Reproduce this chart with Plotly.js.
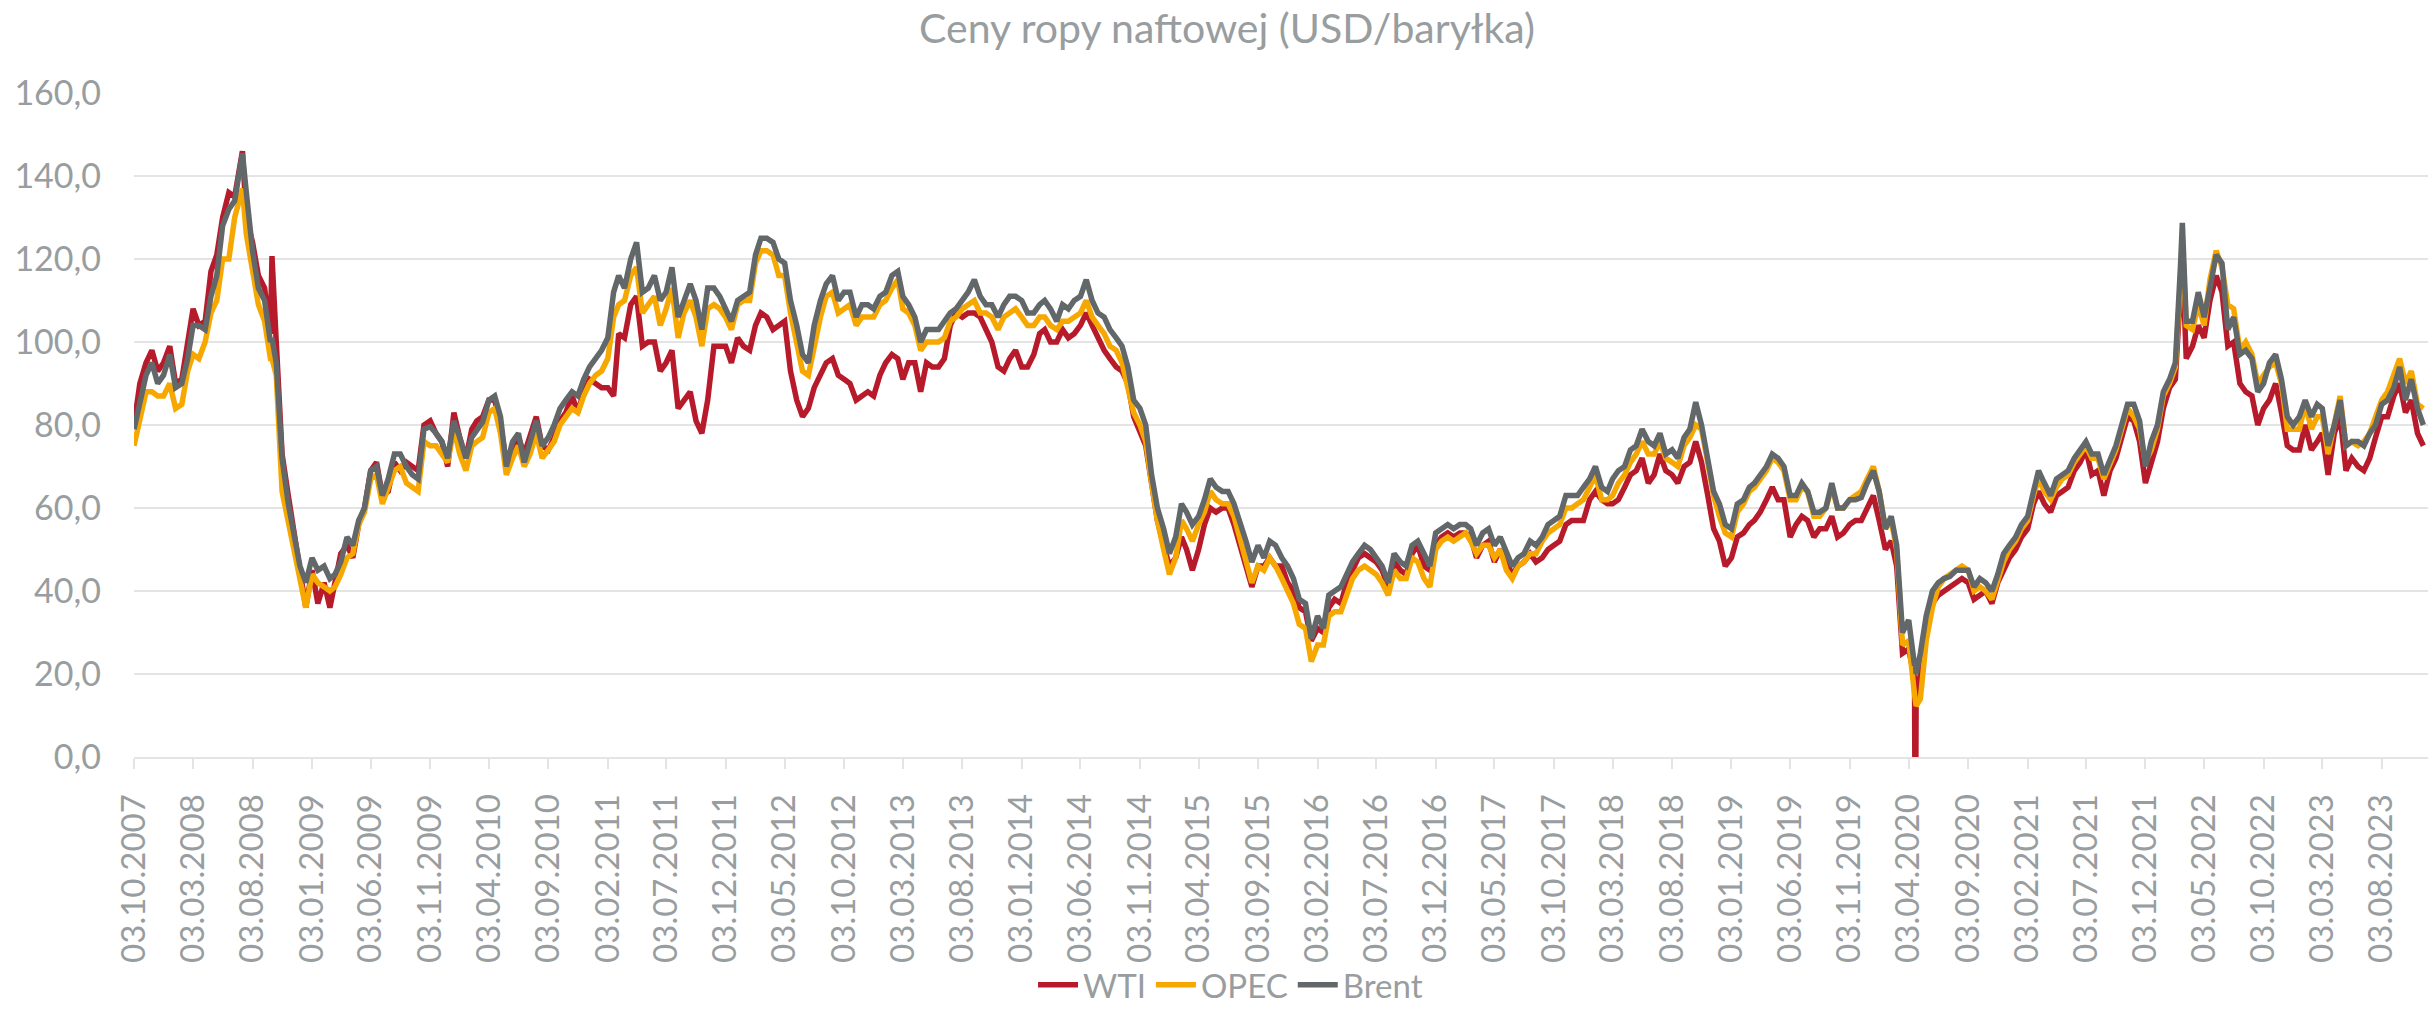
<!DOCTYPE html>
<html><head><meta charset="utf-8">
<script src="https://cdn.plot.ly/plotly-3.0.1.min.js"></script>
<style>html,body{margin:0;padding:0;background:#fff}#chart{width:2432px;height:1017px}</style>
</head><body><div id="chart"></div>
<script>
// Sampling grid: two readings per month (3rd and 18th), Oct 2007 - Nov 2023
const firstYear = 2007, firstMonthIndex = 9, monthCount = 194;
const sampleDays = ['03', '18'];

// WTI (USD/bbl), two values per month
const wti = [
 80,90, 95,98, 93,95,
 99,90, 91,100, 108,104, 105,117, 121,130, 136,135, 143,130, 124,116, 113,102, 100,73, 63,54, 47,36,
 45,37, 42,36, 42,49, 51,48, 56,60, 69,71, 63,64, 71,69, 71,70, 69,80, 81,78, 76,70,
 83,77, 72,79, 81,82, 86,86, 80,71, 74,77, 73,77, 82,75, 74,77, 81,83, 87,83, 88,91,
 90,89, 89,87, 102,101, 109,111, 99,100, 100,93, 95,98, 84,86, 88,81, 78,86, 99,99, 99,95,
 101,99, 98,104, 107,106, 103,104, 105,93, 86,82, 84,89, 92,95, 96,92, 91,90, 86,87, 88,87,
 92,95, 97,96, 91,95, 95,88, 95,94, 94,96, 104,107, 106,107, 107,106, 103,100, 94,93, 96,98,
 94,94, 97,102, 103,100, 100,103, 101,102, 104,107, 104,101, 98,96, 94,93, 90,82, 78,75, 66,57,
 51,46, 48,53, 50,45, 50,56, 60,59, 60,60, 56,51, 46,41, 46,46, 48,46, 46,42, 40,36,
 35,28, 31,30, 36,38, 37,42, 45,48, 49,48, 47,45, 41,47, 45,44, 49,51, 46,45, 51,53,
 54,53, 54,54, 53,48, 51,52, 47,50, 47,44, 46,47, 49,47, 48,50, 51,52, 56,57, 57,57,
 62,64, 62,61, 61,62, 65,68, 69,72, 66,68, 73,69, 68,66, 70,71, 76,71, 63,55, 52,46,
 48,53, 54,56, 57,59, 62,65, 62,62, 53,56, 58,57, 53,55, 55,58, 53,54, 56,57, 57,60,
 63,57, 50,52, 46,25, 26,19, 20,31, 37,39, 40,41, 42,43, 42,38, 39,40, 37,42, 45,48,
 50,53, 55,61, 64,61, 59,63, 64,65, 69,71, 74,68, 69,63, 69,72, 77,82, 81,76, 66,71,
 76,84, 89,91, 110,96, 99,104, 101,110, 116,112, 99,100, 90,88, 87,80, 84,86, 90,83, 75,74,
 74,80, 74,76, 78,68, 78,82, 69,72, 70,69, 72,77, 82,82, 87,90, 83,86, 78,75
];

// OPEC basket (USD/bbl)
const opec = [
 75,82, 88,88, 87,87,
 90,84, 85,93, 97,96, 100,107, 110,120, 120,130, 135,126, 118,109, 105,96, 92,64, 57,50, 43,36,
 44,42, 41,40, 41,44, 48,49, 56,59, 67,68, 61,65, 69,70, 66,65, 64,76, 75,75, 73,71,
 79,73, 69,75, 76,77, 83,84, 78,68, 72,75, 70,73, 78,72, 74,76, 80,82, 84,83, 87,90,
 92,93, 96,106, 109,110, 116,118, 107,109, 111,104, 108,113, 101,107, 110,106, 99,108, 109,108, 106,103,
 109,110, 110,119, 122,122, 121,116, 116,107, 100,93, 92,99, 106,111, 112,107, 108,109, 104,106, 106,106,
 109,110, 113,115, 108,107, 104,98, 100,100, 100,101, 105,106, 108,109, 110,107, 107,106, 103,106, 107,108,
 106,104, 104,106, 106,104, 103,105, 105,106, 107,110, 106,104, 102,99, 98,95, 89,83, 80,76, 66,57,
 50,44, 48,57, 55,52, 56,59, 64,62, 61,61, 58,53, 47,42, 46,45, 48,46, 43,40, 37,32,
 31,23, 27,27, 34,35, 35,39, 43,45, 46,45, 44,42, 39,45, 43,43, 48,47, 43,41, 50,52,
 53,52, 53,54, 52,49, 51,51, 48,50, 45,43, 46,47, 49,49, 52,54, 55,56, 60,60, 61,62,
 65,68, 62,62, 63,66, 68,71, 73,76, 73,73, 76,72, 71,70, 75,77, 80,79, 71,63, 58,54,
 53,59, 61,64, 65,67, 69,72, 71,69, 62,62, 65,64, 58,58, 60,65, 60,60, 62,63, 64,67,
 70,64, 55,57, 50,27, 28,15, 14,28, 36,41, 43,44, 45,46, 45,40, 41,40, 38,43, 47,50,
 52,55, 57,63, 67,64, 62,65, 67,68, 71,73, 75,72, 72,67, 71,74, 79,84, 82,79, 71,74,
 79,87, 90,94, 115,104, 103,109, 104,115, 122,118, 109,108, 98,100, 97,90, 92,94, 95,90, 79,79,
 79,85, 79,82, 82,73, 81,87, 75,76, 75,76, 78,82, 86,88, 92,96, 90,93, 85,84
];

// Brent (USD/bbl)
const brent = [
 79,86, 92,95, 90,92,
 97,89, 90,96, 104,104, 103,111, 116,128, 132,134, 144,136, 122,113, 110,100, 95,72, 61,54, 46,42,
 48,45, 46,43, 44,47, 53,51, 57,60, 69,70, 63,67, 73,73, 70,68, 67,79, 79.6,78, 76,72,
 81,77, 72,77, 79,80.7, 86,87, 82,70, 76,78, 71,76, 81,75, 77,80, 84,86, 88,87, 91,94,
 96,98, 101,112, 116,113, 120,124, 112,113, 116,110, 112,118, 106,110, 114,110, 103,113, 113,111, 108,105,
 110,111, 112,121, 125,125, 124,120, 119,110, 104,97, 95,104, 110,114, 116,110, 112,112, 106,109, 109,108,
 111,112, 116,117, 111,109, 106,100, 103,103, 103,105, 107,108, 110,112, 115,111, 109,109, 106,109, 111,111,
 110,107, 107,109, 110,108, 105,109, 108,110, 111,115, 110,107, 106,103, 101,99, 94,86, 84,80, 68,60,
 55,49, 53,61, 59,56, 58,62, 67,65, 64,64, 61,57, 52,47, 51,48, 52,51, 48,46, 43,38,
 37,28.5, 34,31, 39,40, 41,44, 47,49, 51,50, 48,46, 42,49, 47,46, 51,52, 49,46, 54,55,
 56,55, 56,56, 55,51, 54,55, 51,53, 49,46, 48,49, 52,51, 53,56, 57,58, 63,63, 63,65,
 67,70, 65,64, 67,69, 70,74, 75,79, 76,75, 78,73, 74,72, 77,79, 85.5,80, 72,64, 61,56,
 55,61, 62,65, 66,68, 70,73, 72,70, 63,63, 66,64, 59,59, 60,66, 60,60, 62,62, 62.5,66,
 69,64, 55,58, 51,30, 33,22, 25,34, 40,42, 43,43.5, 45,45, 45,41, 43,42, 40,44, 49,51,
 53,56, 58,64, 69,66, 63,67, 68,69, 72,74, 76,73, 73,68, 72,75, 80,85, 85,81, 70,76,
 80,88, 91,95, 118,105, 105,112, 106,113, 121,119, 103,106, 97,98, 96,88, 90,95, 97,91, 82,80,
 82,86, 82,85, 84,75, 80,86, 75,76, 76,75, 78,80, 85,86, 89,94, 86,91, 84,80
];

// Extra readings at visible daily spikes
const spikeDates = ['2008-07-08', '2008-09-22', '2020-04-20', '2020-04-22', '2022-03-08'];
const spikeWti   = [146, 120.7, -37.6, 14, 120];
const spikeOpec  = [137, 96, 14, 12.3, 124];
const spikeBrent = [145.5, 101, 23, 20, 128.7];

const tickLabels = ['03.10.2007','03.03.2008','03.08.2008','03.01.2009','03.06.2009','03.11.2009',
 '03.04.2010','03.09.2010','03.02.2011','03.07.2011','03.12.2011','03.05.2012','03.10.2012',
 '03.03.2013','03.08.2013','03.01.2014','03.06.2014','03.11.2014','03.04.2015','03.09.2015',
 '03.02.2016','03.07.2016','03.12.2016','03.05.2017','03.10.2017','03.03.2018','03.08.2018',
 '03.01.2019','03.06.2019','03.11.2019','03.04.2020','03.09.2020','03.02.2021','03.07.2021',
 '03.12.2021','03.05.2022','03.10.2022','03.03.2023','03.08.2023'];

const seriesNames = ['WTI', 'OPEC', 'Brent'];
const seriesColors = ['#B71B2B', '#F7A800', '#626769'];

// ---- build rows ----
const rows = [];
for (let i = 0; i < monthCount; i++) {
  const mi = firstMonthIndex + i;
  const y = firstYear + Math.floor(mi / 12);
  const m = String(mi % 12 + 1).padStart(2, '0');
  sampleDays.forEach((d, j) => {
    const k = i * 2 + j;
    rows.push({d: `${y}-${m}-${d}`, v: [wti[k], opec[k], brent[k]]});
  });
}
spikeDates.forEach((d, k) => rows.push({d, v: [spikeWti[k], spikeOpec[k], spikeBrent[k]]}));
rows.sort((a, b) => a.d < b.d ? -1 : a.d > b.d ? 1 : 0);

const xs = rows.map(r => r.d);
const traces = seriesNames.map((name, s) => ({
  type: 'scatter', mode: 'lines', name,
  x: xs, y: rows.map(r => r.v[s]),
  line: {color: seriesColors[s], width: 5.5},
  hoverinfo: 'skip'
}));

const tickVals = tickLabels.map(t => `${t.slice(6)}-${t.slice(3,5)}-${t.slice(0,2)}`);
const gray = '#989DA0';
const grid = '#E4E4E4';
const fam = 'Lato, "Open Sans", "Noto Sans", sans-serif';

const layout = {
  width: 2432, height: 1017,
  margin: {l: 134, r: 4, t: 93, b: 257},
  paper_bgcolor: '#ffffff', plot_bgcolor: '#ffffff',
  separators: ', ',
  font: {family: fam, color: gray, size: 33},
  title: {text: 'Ceny ropy naftowej (USD/baryłka)', x: 0.5045, xref: 'container', xanchor: 'center',
          y: 0.972, yref: 'container', yanchor: 'middle',
          font: {family: fam, size: 41, color: gray}},
  showlegend: true,
  legend: {orientation: 'h', x: 0.478, xref: 'paper', xanchor: 'center', y: -0.343, yanchor: 'middle',
           font: {family: fam, size: 33, color: gray}, traceorder: 'normal', itemwidth: 40,
           bgcolor: 'rgba(0,0,0,0)'},
  xaxis: {type: 'date', range: ['2007-10-03', '2023-11-30'], automargin: false,
          tickmode: 'array', tickvals: tickVals, ticktext: tickLabels, tickangle: -90,
          showgrid: false, zeroline: false, showline: true, linecolor: grid, linewidth: 2,
          ticks: 'outside', ticklen: 10, tickwidth: 2, tickcolor: grid,
          tickfont: {family: fam, size: 33, color: gray}, ticklabelstandoff: 12, fixedrange: true},
  yaxis: {range: [0, 160], tick0: 0, dtick: 20, tickformat: '.1f', automargin: false,
          showgrid: true, gridcolor: grid, gridwidth: 2, zeroline: false, showline: false,
          ticks: '', tickfont: {family: fam, size: 34, color: gray}, ticklabelstandoff: 32,
          fixedrange: true}
};

Plotly.newPlot('chart', traces, layout, {staticPlot: true, displayModeBar: false});
</script>
</body></html>
